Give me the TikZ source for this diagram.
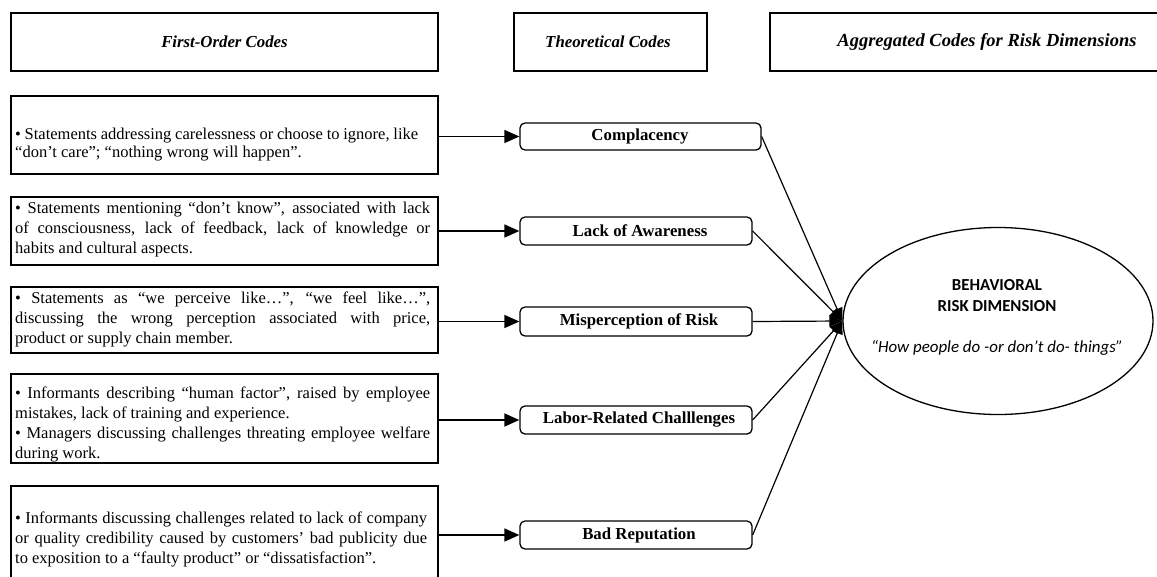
\documentclass[tikz,border=0pt]{standalone}
\usepackage{fontspec}
\setmainfont{Liberation Serif}
\newfontfamily\calib{Carlito}
\usetikzlibrary{arrows.meta,fit,shapes.geometric}

\begin{document}
\begin{tikzpicture}[x=1pt,y=-1pt,
  frame/.style={draw, line width=1.5pt, inner sep=0pt},
  hdr/.style={font=\fontsize{16.8}{19}\selectfont\bfseries\itshape},
  codebox/.style={draw, line width=1.3pt, rounded corners=5pt, inner sep=0pt},
  codetext/.style={font=\fontsize{16.8}{20}\selectfont\bfseries},
  body/.style={text width=415pt, align=justify, inner sep=0pt, anchor=north west,
    font=\fontsize{16.5}{20}\selectfont},
  feed/.style={line width=1.5pt, -{Triangle[length=15pt,width=13pt]}},
  link/.style={line width=1.2pt, -{Triangle[length=13pt,width=11pt]}},
  dimtitle/.style={font=\calib\fontsize{16.8}{21}\selectfont\bfseries, anchor=base},
  dimquote/.style={font=\calib\fontsize{16.9}{19}\selectfont\itshape, anchor=base},
]
\useasboundingbox (0,0) rectangle (1157,576);
\clip (0,0) rectangle (1157,576);

% column headers
\node[frame, fit={(11,13) (438,71)}] (h1) {};
\node[frame, fit={(514,13) (707,71)}] (h2) {};
\node[frame, fit={(770,13) (1175,71)}] (h3) {};
\node[hdr] (h1t) at (h1.center) {First-Order Codes};
\node[hdr] (h2t) at (608,42) {Theoretical Codes};
\node[hdr, font=\fontsize{18.5}{21}\selectfont\bfseries\itshape] (h3t) at (987,42)
  {Aggregated Codes for Risk Dimensions};

% first-order code boxes
\node[frame, fit={(11,96) (438,174)}] (f1) {};
\node[frame, fit={(11,197) (438,265)}] (f2) {};
\node[frame, fit={(11,287) (438,353)}] (f3) {};
\node[frame, fit={(11,374) (438,463)}] (f4) {};
\node[frame, fit={(11,486) (438,600)}] (f5) {};

\node[body, text width=403pt, font=\fontsize{16.5}{17.5}\selectfont] (f1t) at (15,127.3)
  {\strut• Statements addressing carelessness or choose to ignore, like\linebreak
  “don’t care”; “nothing wrong will happen”.};
\node[body] (f2t) at (15,199.5) {\strut• Statements mentioning “don’t know”, associated with lack\linebreak
  of consciousness, lack of feedback, lack of knowledge or\linebreak
  habits and cultural aspects.};
\node[body] (f3t) at (15,289.5) {\strut• Statements as “we perceive like…”, “we feel like…”,\linebreak
  discussing the wrong perception associated with price,\linebreak
  product or supply chain member.};
\node[body] (f4t) at (15,384.5) {\strut• Informants describing “human factor”, raised by employee\linebreak
  mistakes, lack of training and experience.\\
  • Managers discussing challenges threating employee welfare\linebreak
  during work.};
\node[body, text width=412pt] (f5t) at (15,509.5)
  {\strut• Informants discussing challenges related to lack of company\linebreak
  or quality credibility caused by customers’ bad publicity due\linebreak
  to exposition to a “faulty product” or “dissatisfaction”.};

% theoretical code boxes
\node[codebox, fit={(520,123) (761,150)}] (b1) {};
\node[codebox, fit={(520,217) (752,245)}] (b2) {};
\node[codebox, fit={(520,307) (752,336)}] (b3) {};
\node[codebox, fit={(520,406) (752,434)}] (b4) {};
\node[codebox, fit={(520,521) (752,549)}] (b5) {};

\node[codetext] (b1t) at (b1.center -| 640,0) {Complacency};
\node[codetext] (b2t) at (b2.center -| 640,0) {Lack of Awareness};
\node[codetext] (b3t) at (b3.center -| 639,0) {Misperception of Risk};
\node[codetext] (b4t) at (b4.center -| 639,0) {Labor-Related Challlenges};
\node[codetext] (b5t) at (b5.center -| 639,0) {Bad Reputation};

% aggregated dimension
\node[draw, ellipse, line width=1.3pt, minimum width=310pt, minimum height=187pt,
  inner sep=0pt] (dim) at (998,321) {};
\node[dimtitle] (d1) at (997,290.5) {BEHAVIORAL};
\node[dimtitle] (d2) at (997,311.5) {RISK DIMENSION};
\node[dimquote] (d3) at (997,352) {“How people do -or don’t do- things”};

% connectors
\foreach \i in {1,...,5}{
  \draw[feed] (f\i.east |- b\i.west) -- (b\i.west);
  \draw[link] (b\i.east) -- (dim.west);
}
\end{tikzpicture}
\end{document}
